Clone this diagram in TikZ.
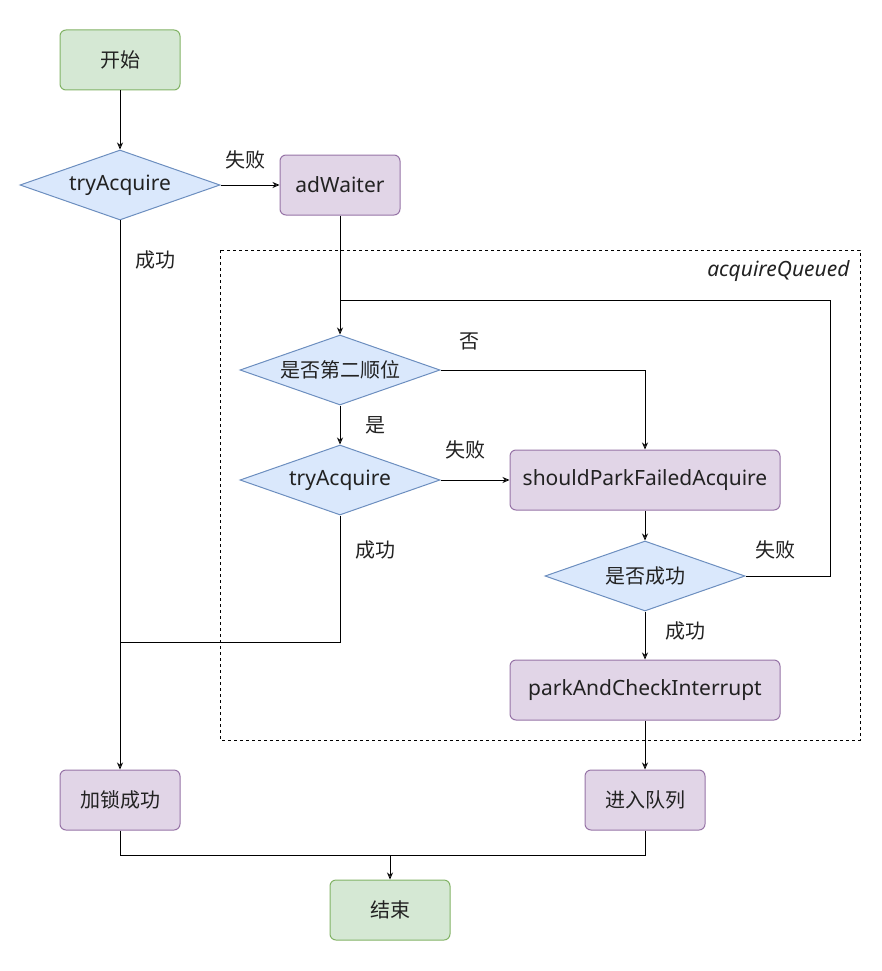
\documentclass[tikz,border=0pt]{standalone}
\usepackage{fontspec}
\setmainfont{Noto Sans CJK SC}
\newfontfamily\latfont{Noto Sans}
\newcommand{\lt}{\fontsize{21}{24}\selectfont\latfont}
\usetikzlibrary{shapes.geometric,arrows.meta}
\definecolor{grnF}{HTML}{D5E8D4}
\definecolor{grnB}{HTML}{82B366}
\definecolor{bluF}{HTML}{DAE8FC}
\definecolor{bluB}{HTML}{6C8EBF}
\definecolor{purF}{HTML}{E1D5E7}
\definecolor{purB}{HTML}{9673A6}
\definecolor{txt}{HTML}{222222}
\begin{document}
\begin{tikzpicture}[x=1pt,y=-1pt,
  every node/.style={text=txt},
  basefont/.style={font=\fontsize{20}{23}\selectfont},
  gbox/.style={rectangle, rounded corners=6pt, draw=grnB, fill=grnF, line width=1pt, minimum width=120pt, minimum height=60pt, basefont},
  pbox/.style={rectangle, rounded corners=6pt, draw=purB, fill=purF, line width=1pt, minimum height=60pt, basefont},
  dia/.style={diamond, draw=bluB, fill=bluF, line width=1pt, inner sep=0pt, aspect=2.86, minimum width=200pt, minimum height=70pt, basefont},
  lbl/.style={basefont},
  arr/.style={-{Stealth[open,length=7pt,width=6pt]}, line width=0.9pt},
  ln/.style={line width=0.9pt}
]
\useasboundingbox (0,0) rectangle (881,971);

% group box
\draw[dashed, line width=0.8pt] (220,250) rectangle (860,740);
\node[lbl, anchor=east, font=\lt\itshape] (gq) at (853,271) {acquireQueued};

% nodes
\node[gbox] (start) at (120,60) {开始};
\node[dia] (ta1) at (120,185) {\lt tryAcquire};
\node[pbox, minimum width=120pt] (ad) at (340,185) {\lt adWaiter};
\node[dia] (d2) at (340,370) {是否第二顺位};
\node[dia] (ta2) at (340,480) {\lt tryAcquire};
\node[pbox, minimum width=270pt] (sp) at (645,480) {\lt shouldParkFailedAcquire};
\node[dia] (d3) at (645,576) {是否成功};
\node[pbox, minimum width=270pt] (pc) at (645,690) {\lt parkAndCheckInterrupt};
\node[pbox, minimum width=120pt] (lock) at (120,800) {加锁成功};
\node[pbox, minimum width=120pt] (queue) at (645,800) {进入队列};
\node[gbox] (end) at (390,910) {结束};

% helper coordinates
\coordinate (lpL) at (340,300);
\coordinate (lpR) at (830,300);
\coordinate (j1) at (120,642);
\coordinate (j2) at (390,855);

% connectors
\draw[arr] (start) -- (ta1);
\draw[arr] (ta1) -- (ad);
\draw[arr] (ad) -- (d2);
\draw[arr] (d2) -- (ta2);
\draw[arr] (d2.east) -| (sp.north);
\draw[arr] (ta2) -- (sp);
\draw[arr] (sp) -- (d3);
\draw[ln] (d3.east) -| (lpR) -- (lpL);
\draw[arr] (d3) -- (pc);
\draw[arr] (pc) -- (queue);
\draw[arr] (ta1) -- (lock);
\draw[ln] (ta2.south) |- (j1);
\draw[ln] (lock.south) |- (j2);
\draw[ln] (queue.south) |- (j2);
\draw[arr] (j2) -- (end);

% labels
\node[lbl] (l1) at (245,160) {失败};
\node[lbl] (l2) at (155,260) {成功};
\node[lbl] (l3) at (469,341) {否};
\node[lbl] (l4) at (375,425) {是};
\node[lbl] (l5) at (465,450) {失败};
\node[lbl] (l6) at (375,550) {成功};
\node[lbl] (l7) at (775,550) {失败};
\node[lbl] (l8) at (685,631) {成功};
\end{tikzpicture}
\end{document}
